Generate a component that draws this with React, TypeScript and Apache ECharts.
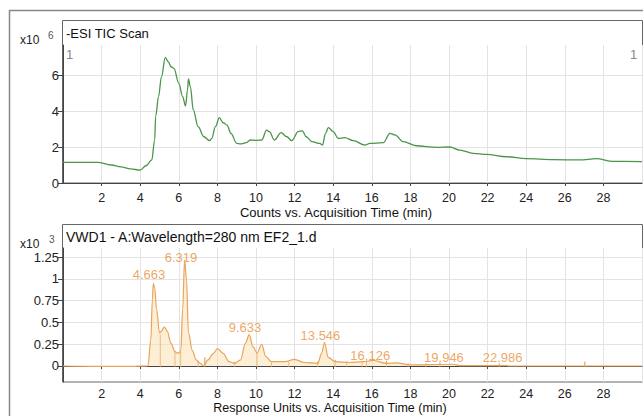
import React, { useEffect, useRef } from "react";
import * as echarts from "echarts";

// ---- Data ----
const ticTimes = [0, 1.8, 2.5, 3, 3.5, 4, 4.3, 4.6, 4.75, 4.8, 4.95, 5.1, 5.3, 5.45, 5.6, 5.75, 6.0, 6.2, 6.35, 6.45, 6.5, 6.6, 6.75, 7.0, 7.3, 7.6, 7.7, 7.9, 8.1, 8.3, 8.5, 8.7, 9.0, 9.2, 9.5, 9.7, 10, 10.3, 10.55, 10.7, 10.95, 11.3, 11.6, 11.85, 12.2, 12.4, 12.6, 12.9, 13.3, 13.45, 13.6, 13.75, 14, 14.26, 14.6, 15.04, 15.64, 15.9, 16.6, 16.94, 17.2, 17.63, 18.3, 19.35, 20.05, 20.56, 21.25, 21.95, 22.98, 24, 25.4, 26.78, 27.64, 28.5, 30];
const ticValues = [1.15, 1.15, 1.0, 0.9, 0.78, 0.72, 0.96, 1.28, 2.4, 3.7, 4.8, 5.9, 6.98, 6.74, 6.46, 6.37, 5.54, 4.8, 4.28, 5.17, 5.78, 5.35, 4.06, 3.13, 2.57, 2.35, 2.48, 3.13, 3.63, 3.35, 3.22, 2.76, 2.2, 2.17, 2.24, 2.39, 2.37, 2.39, 2.94, 2.85, 2.39, 2.8, 2.57, 2.35, 2.87, 2.9, 2.57, 2.3, 2.2, 2.11, 2.76, 3.08, 2.85, 2.48, 2.52, 2.35, 2.11, 2.2, 2.24, 2.76, 2.67, 2.3, 2.07, 1.98, 2.0, 1.83, 1.65, 1.59, 1.46, 1.35, 1.3, 1.28, 1.35, 1.2, 1.19];
const ticYTicks = [0, 2, 4, 6];

const vwdTimes = [0, 2, 3.5, 4.4, 4.55, 4.63, 4.68, 4.75, 4.85, 5.0, 5.1, 5.25, 5.4, 5.6, 5.8, 5.95, 6.1, 6.2, 6.3, 6.4, 6.5, 6.7, 6.9, 7.1, 7.3, 7.5, 7.8, 8.0, 8.3, 8.6, 8.9, 9.2, 9.45, 9.65, 9.85, 10.05, 10.3, 10.5, 10.8, 11.5, 12.0, 12.5, 13.2, 13.4, 13.55, 13.74, 14.1, 14.86, 15.55, 16.07, 16.76, 17.28, 17.97, 20.2, 20.56, 23, 23.1, 30];
const vwdValues = [0, -0.005, -0.005, 0.0, 0.3, 0.76, 0.95, 0.9, 0.65, 0.38, 0.4, 0.45, 0.4, 0.26, 0.165, 0.146, 0.165, 0.65, 1.22, 0.99, 0.38, 0.18, 0.07, 0.03, 0.0, 0.07, 0.146, 0.2, 0.146, 0.05, 0.03, 0.07, 0.26, 0.36, 0.22, 0.15, 0.25, 0.11, 0.05, 0.05, 0.077, 0.04, 0.03, 0.146, 0.27, 0.1, 0.05, 0.04, 0.05, 0.065, 0.03, 0.035, 0.012, 0.02, 0.005, 0.005, 0, 0];
const vwdYTicks = [0, 0.25, 0.5, 0.75, 1, 1.25];

const peakTimes = [4.663, 6.319, 9.633, 13.546, 16.126, 19.946, 22.986];
const peakLabelLevels = [1.046, 1.25, 0.437, 0.356, 0.126, 0.103, 0.092];

const markerTimes = [5.04, 5.8, 6.1, 7.0, 7.35, 8.9, 10.05, 10.8, 11.7, 13.2, 14.1, 14.7, 15.5, 15.73, 16.76, 17.88, 18.8, 19.53, 22.6, 27.04];
const markerHeights = [0.36, 0.17, 0.16, 0.06, 0.1, 0.05, 0.15, 0.05, 0.05, 0.05, 0.07, 0.05, 0.05, 0.06, 0.06, 0.03, 0.03, 0.04, 0.03, 0.05];

const FONT = "Liberation Sans, Arial, sans-serif";

export default function App() {
  const ref = useRef<HTMLDivElement>(null);
  useEffect(() => {
    if (!ref.current) return;
    const chart = echarts.init(ref.current, undefined, { renderer: "svg" });
    const xAxisBase = {
      type: "value",
      min: 0,
      max: 30,
      interval: 2,
      axisLine: { show: true, lineStyle: { color: "#444", width: 1 } },
      axisTick: { show: true, length: 3, lineStyle: { color: "#444" } },
      splitLine: { show: true, lineStyle: { color: "#e3e3e3", width: 1 } },
    };
    chart.setOption({
      animation: false,
      textStyle: { fontFamily: FONT },
      grid: [
        { left: 63, right: 1, top: 45, bottom: 233 },
        { left: 63, right: 1, top: 248, bottom: 34 },
      ],
      xAxis: [
        {
          ...xAxisBase,
          gridIndex: 0,
          axisLabel: { showMinLabel: false, showMaxLabel: false, fontSize: 12.5, color: "#222", margin: 8, fontFamily: FONT },
        },
        {
          ...xAxisBase,
          gridIndex: 1,
          axisLabel: { showMinLabel: false, showMaxLabel: false, fontSize: 12.5, color: "#222", margin: 5, fontFamily: FONT },
        },
      ],
      yAxis: [
        {
          type: "value",
          gridIndex: 0,
          min: 0,
          max: 7.67,
          axisLine: { show: true, lineStyle: { color: "#444" } },
          axisTick: { show: true, length: 5, customValues: ticYTicks, lineStyle: { color: "#444" } },
          axisLabel: { customValues: ticYTicks, fontSize: 13, color: "#222", margin: 4, fontFamily: FONT },
          splitLine: { show: true, lineStyle: { color: "#e3e3e3" } },
        },
        {
          type: "value",
          gridIndex: 1,
          min: -0.184,
          max: 1.356,
          axisLine: { show: true, lineStyle: { color: "#444" } },
          axisTick: { show: true, length: 5, customValues: vwdYTicks, lineStyle: { color: "#444" } },
          axisLabel: { customValues: vwdYTicks, fontSize: 13, color: "#222", margin: 4, fontFamily: FONT },
          splitLine: { show: true, lineStyle: { color: "#e3e3e3" } },
        },
      ],
      series: [
        {
          type: "line",
          xAxisIndex: 0,
          yAxisIndex: 0,
          data: ticTimes.map((t, i) => [t, ticValues[i]]),
          showSymbol: false,
          smooth: 0.35,
          smoothMonotone: "x",
          lineStyle: { color: "#4a954a", width: 1.3 },
        },
        {
          type: "line",
          xAxisIndex: 1,
          yAxisIndex: 1,
          data: vwdTimes.map((t, i) => [t, vwdValues[i]]),
          showSymbol: false,
          smooth: 0.35,
          smoothMonotone: "x",
          lineStyle: { color: "#e8a45c", width: 1.2 },
          areaStyle: { color: "rgba(250, 224, 175, 0.75)" },
        },
        {
          type: "custom",
          xAxisIndex: 1,
          yAxisIndex: 1,
          data: markerTimes.map((t, i) => [t, markerHeights[i]]),
          renderItem: (params: any, api: any) => {
            const p0 = api.coord([api.value(0), 0]);
            const p1 = api.coord([api.value(0), api.value(1)]);
            return {
              type: "line",
              shape: { x1: p0[0], y1: p0[1] + 1, x2: p1[0], y2: p1[1] },
              style: { stroke: "#d9924a", lineWidth: 1 },
            };
          },
          silent: true,
        },
        {
          type: "scatter",
          xAxisIndex: 1,
          yAxisIndex: 1,
          symbolSize: 0,
          data: peakTimes.map((t, i) => [t, peakLabelLevels[i]]),
          label: {
            show: true,
            position: "inside",
            offset: [-4, 0],
            formatter: (p: any) => p.value[0].toFixed(3),
            color: "#e8903a",
            fontSize: 13,
            fontFamily: FONT,
          },
          silent: true,
        },
      ],
      graphic: [
        { type: "line", shape: { x1: 9.5, y1: 10, x2: 9.5, y2: 416 }, style: { stroke: "#888", lineWidth: 1.5 } },
        { type: "line", shape: { x1: 9, y1: 10.5, x2: 643, y2: 10.5 }, style: { stroke: "#888", lineWidth: 1.5 } },
        { type: "rect", shape: { x: 62.5, y: 20.5, width: 580, height: 162.5 }, style: { fill: "none", stroke: "#666", lineWidth: 1 } },
        { type: "rect", shape: { x: 62.5, y: 224.5, width: 580, height: 157.5 }, style: { fill: "none", stroke: "#666", lineWidth: 1 } },
        { type: "text", left: 66, top: 27, style: { text: "-ESI TIC Scan", fontSize: 13, fill: "#111", fontFamily: FONT } },
        { type: "text", left: 66, top: 230, style: { text: "VWD1 - A:Wavelength=280 nm EF2_1.d", fontSize: 14, fill: "#111", fontFamily: FONT } },
        { type: "text", left: 20, top: 34, style: { text: "x10", fontSize: 12, fill: "#222", fontFamily: FONT } },
        { type: "text", left: 48, top: 30, style: { text: "6", fontSize: 10, fill: "#555", fontFamily: FONT } },
        { type: "text", left: 20, top: 238, style: { text: "x10", fontSize: 12, fill: "#222", fontFamily: FONT } },
        { type: "text", left: 49, top: 234, style: { text: "3", fontSize: 10, fill: "#555", fontFamily: FONT } },
        { type: "text", left: 66, top: 48, style: { text: "1", fontSize: 13, fill: "#888", fontFamily: FONT } },
        { type: "text", left: 630, top: 48, style: { text: "1", fontSize: 13, fill: "#888", fontFamily: FONT } },
        { type: "text", x: 336, y: 212, style: { text: "Counts vs. Acquisition Time (min)", fontSize: 13, fill: "#111", fontFamily: FONT, align: "center", verticalAlign: "middle" } },
        { type: "text", x: 330, y: 408, style: { text: "Response Units vs. Acquisition Time (min)", fontSize: 12.5, fill: "#111", fontFamily: FONT, align: "center", verticalAlign: "middle" } },
      ],
    });
    return () => chart.dispose();
  }, []);
  return <div ref={ref} style={{ position: "fixed", left: 0, top: 0, width: 643, height: 416, background: "#fff" }} />;
}
